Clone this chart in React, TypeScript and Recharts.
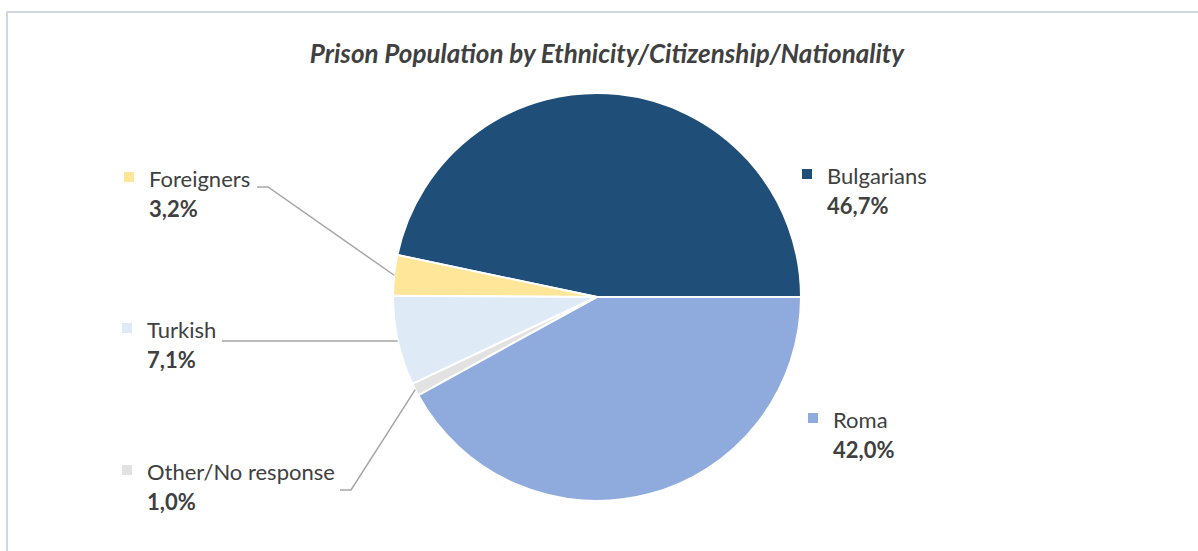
import { PieChart, Pie, Cell } from 'recharts';

const CATEGORIES = ['Bulgarians', 'Foreigners', 'Turkish', 'Other/No response', 'Roma'];
const SHARES = [46.7, 3.2, 7.1, 1.0, 42.0];
const COLORS = ['#1F4E79', '#FFE699', '#DEEBF7', '#E2E2E2', '#8FAADC'];

const data = CATEGORIES.map((name, i) => ({ name, value: SHARES[i] }));

// label placement relative to pie centre (Excel-style manual positions)
const LABEL_LAYOUT: Record<string, { dx: number; dy: number; elbow?: [number, number]; endX?: number }> = {
  Bulgarians: { dx: 230, dy: -113 },
  Foreigners: { dx: -448, dy: -110, elbow: [-329, -110], endX: -340 },
  Turkish: { dx: -450, dy: 41, elbow: [-200, 44], endX: -375 },
  'Other/No response': { dx: -450, dy: 183, elbow: [-246, 193], endX: -257 },
  Roma: { dx: 236, dy: 131 },
};

const RADIAN = Math.PI / 180;
const TEXT = '#404040';
const FONT = 'Lato, "Open Sans", sans-serif';

const fmt = (v: number) => v.toFixed(1).replace('.', ',') + '%';

function renderLabel(props: any) {
  const { cx, cy, midAngle, outerRadius, index } = props;
  const name = CATEGORIES[index];
  const lay = LABEL_LAYOUT[name];
  const tx = cx + lay.dx;
  const ty = cy + lay.dy;
  let leader = null;
  if (lay.elbow && lay.endX !== undefined) {
    const px = cx + outerRadius * Math.cos(-midAngle * RADIAN);
    const py = cy + outerRadius * Math.sin(-midAngle * RADIAN);
    const ex = cx + lay.elbow[0];
    const ey = cy + lay.elbow[1];
    leader = (
      <polyline
        points={`${px},${py} ${ex},${ey} ${cx + lay.endX},${ey}`}
        fill="none"
        stroke="#A6A6A6"
        strokeWidth={1.5}
      />
    );
  }
  return (
    <g key={name}>
      {leader}
      <rect x={tx - 25} y={ty - 15} width={10} height={10} fill={COLORS[index]} />
      <text x={tx} y={ty} fill={TEXT} fontSize={22} fontFamily={FONT}>
        {name}
      </text>
      <text x={tx} y={ty + 30} fill={TEXT} fontSize={22} fontWeight="bold" fontFamily={FONT}>
        {fmt(SHARES[index])}
      </text>
    </g>
  );
}

export default function App() {
  return (
    <div style={{ position: 'absolute', left: 0, top: 0, width: 1198, height: 551, overflow: 'hidden', background: '#fff' }}>
      <div
        style={{
          position: 'absolute',
          left: 6,
          top: 11,
          width: 1220,
          height: 600,
          borderTop: '2px solid #D0D7E1',
          borderLeft: '2px solid #D0D7E1',
        }}
      />
      <div
        style={{
          position: 'absolute',
          left: 0,
          top: 37,
          width: 1214,
          textAlign: 'center',
          fontFamily: FONT,
          fontSize: 26,
          fontWeight: 'bold',
          fontStyle: 'italic',
          color: TEXT,
        }}
      >
        Prison Population by Ethnicity/Citizenship/Nationality
      </div>
      <div style={{ position: 'absolute', left: 0, top: 0 }}>
        <PieChart width={1198} height={551} margin={{ top: 0, right: 0, bottom: 0, left: 0 }}>
          <Pie
            data={data}
            dataKey="value"
            nameKey="name"
            cx={597}
            cy={297}
            outerRadius={204}
            startAngle={0}
            endAngle={360}
            stroke="#fff"
            strokeWidth={2}
            label={renderLabel}
            labelLine={false}
            isAnimationActive={false}
          >
            {data.map((d, i) => (
              <Cell key={d.name} fill={COLORS[i]} />
            ))}
          </Pie>
        </PieChart>
      </div>
    </div>
  );
}
